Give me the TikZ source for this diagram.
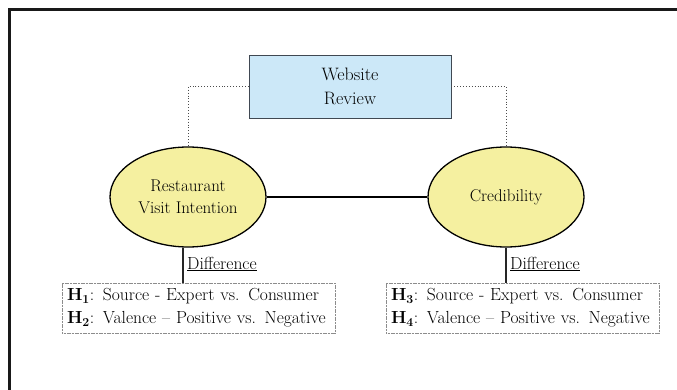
\documentclass[tikz,border=0pt]{standalone}
\usepackage{fontspec}
\usetikzlibrary{shapes.geometric}
\definecolor{boxblue}{RGB}{204,232,248}
\definecolor{ovalyellow}{RGB}{245,240,160}
\definecolor{boxedge}{RGB}{64,72,82}
\tikzset{
	oval/.style={ellipse, draw=black, line width=1.3pt, fill=ovalyellow, minimum width=156pt, minimum height=100pt, align=center, inner sep=0pt, font=\fontsize{17}{22}\selectfont},
	hypbox/.style={rectangle, draw=black!45, dash pattern=on 1.2pt off 0.4pt, line width=0.7pt, minimum width=273pt, minimum height=50pt, text width=263pt, align=left, inner xsep=5pt, inner ysep=0pt, font=\fontsize{17.5}{23}\selectfont},
	difflabel/.style={anchor=west, inner sep=0pt, font=\fontsize{17.5}{22}\selectfont},
	link/.style={line width=1.4pt, black!85}
}

\begin{document}
\begin{tikzpicture}[x=1pt, y=-1pt, font=\fontsize{18}{24}\selectfont]
			%%%%% START %%%%%
			\useasboundingbox (0, 0) rectangle (677, 390);
			
			% frame
			\draw[line width=3pt, black!90] (9.5, 392) |- (680, 9.5);
			
			\node[rectangle, draw=boxedge, line width=0.9pt, fill=boxblue, minimum width=202pt, minimum height=63pt, align=center, inner sep=0pt] (review) at (350, 86.5) {Website\\Review};
			
			\node[oval] (visit) at (188, 197) {Restaurant\\Visit Intention};
			\node[oval] (cred) at (506, 197) {Credibility};
			
			\draw[dotted, line width=0.9pt, black!70] (review.west) -| (visit.north);
			\draw[dotted, line width=0.9pt, black!70] (review.east) -| (cred.north);
			\draw[line width=1.6pt] (visit.east) -- (cred.west);
			
			\node[hypbox] (hypa) at (198.5, 308) {\textbf{H\textsubscript{1}}: Source - Expert vs. Consumer\\\textbf{H\textsubscript{2}}: Valence -- Positive vs. Negative};
			\node[hypbox] (hypb) at (522.5, 308) {\textbf{H\textsubscript{3}}: Source - Expert vs. Consumer\\\textbf{H\textsubscript{4}}: Valence -- Positive vs. Negative};
			
			\draw[link] (visit.south -| 183, 0) -- (183, 0 |- hypa.north) coordinate (foota);
			\draw[link] (cred.south) -- (cred.south |- hypb.north) coordinate (footb);
			
			\node[difflabel] (diffa) at (187, 264) {\underline{Difference}};
			\node[difflabel] (diffb) at (510, 264) {\underline{Difference}};
			
			%%%%% END %%%%%
		\end{tikzpicture}
\end{document}
